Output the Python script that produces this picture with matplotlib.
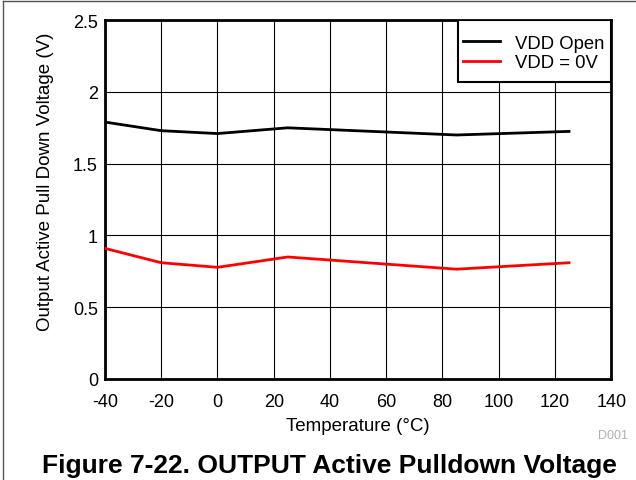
import matplotlib
matplotlib.use("Agg")
import matplotlib.pyplot as plt
from matplotlib.lines import Line2D
from matplotlib.patches import Rectangle

plt.rcParams["font.family"] = ["Liberation Sans", "DejaVu Sans"]

temps = [-40, -20, 0, 25, 85, 125]
vdd_open = [1.79, 1.73, 1.71, 1.75, 1.70, 1.725]
vdd_0v = [0.91, 0.81, 0.778, 0.85, 0.765, 0.81]

x_ticks = [-40, -20, 0, 20, 40, 60, 80, 100, 120, 140]
y_ticks = [0, 0.5, 1, 1.5, 2, 2.5]
y_tick_labels = ["0", "0.5", "1", "1.5", "2", "2.5"]

fig = plt.figure(figsize=(6.36, 4.81), dpi=100)
ax = fig.add_axes([0.165, 0.21, 0.796, 0.746])

ax.plot(temps, vdd_open, color="black", lw=2, label="VDD Open", zorder=3)
ax.plot(temps, vdd_0v, color="red", lw=2, label="VDD = 0V", zorder=3)

ax.set_xlim(-40, 140)
ax.set_ylim(0, 2.5)
ax.set_xticks(x_ticks)
ax.set_xticklabels([str(t) for t in x_ticks])
ax.set_yticks(y_ticks)
ax.set_yticklabels(y_tick_labels)
ax.tick_params(length=0, labelsize=13)
ax.tick_params(axis="x", pad=10)
ax.tick_params(axis="y", pad=5)
ax.grid(True, color="black", lw=0.8)
for s in ax.spines.values():
    s.set_linewidth(2)

ax.set_xlabel("Temperature (°C)", fontsize=13.5, labelpad=5)
ax.set_ylabel("Output Active Pull Down Voltage (V)", fontsize=13.5)
ax.yaxis.set_label_coords(-0.10, 0.552)

# legend box drawn by hand so the padding matches
ax.add_patch(Rectangle((0.698, 0.827), 0.302, 0.173, transform=ax.transAxes,
                       facecolor="white", edgecolor="black", lw=1.5, zorder=4))
leg = ax.legend(loc="upper left", bbox_to_anchor=(0.7075, 0.960), fontsize=13.3,
                frameon=False, borderaxespad=0, borderpad=0, handlelength=2.0,
                labelspacing=0.16, handletextpad=0.8)
leg.set_zorder(5)

fig.text(0.94, 0.093, "D001", fontsize=9, color="#b0b0b0", ha="left", va="center")
fig.text(0.518, 0.031, "Figure 7-22. OUTPUT Active Pulldown Voltage",
         fontsize=19, fontweight="bold", ha="center", va="center")

# outer frame
fig.add_artist(Line2D([0.005, 0.005], [0, 0.996], transform=fig.transFigure, color="#555555", lw=1))
fig.add_artist(Line2D([0.005, 1], [0.996, 0.996], transform=fig.transFigure, color="#555555", lw=1))

fig.savefig("out.png", dpi=100)
